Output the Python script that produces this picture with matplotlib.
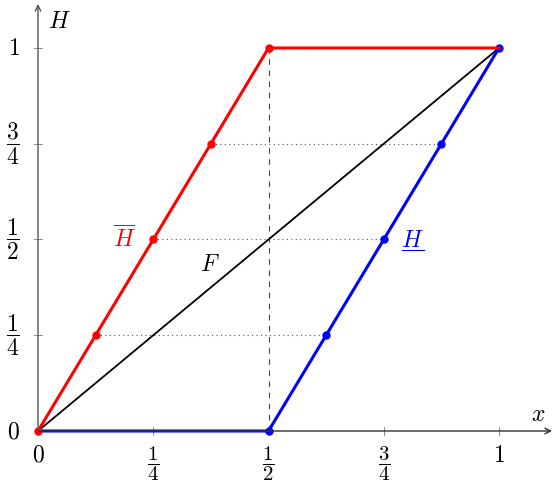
import numpy as np
import matplotlib.pyplot as plt

plt.rcParams['mathtext.fontset'] = 'cm'

# data
x_ticks = [0, 0.25, 0.5, 0.75, 1]
x_tick_labels = ['$0$', r'$\dfrac{1}{4}$', r'$\dfrac{1}{2}$', r'$\dfrac{3}{4}$', '$1$']
y_ticks = [0, 0.25, 0.5, 0.75, 1]
y_tick_labels = ['$0$', r'$\dfrac{1}{4}$', r'$\dfrac{1}{2}$', r'$\dfrac{3}{4}$', '$1$']

h_upper_x = [0, 0.5, 1]
h_upper_y = [0, 1, 1]
h_upper_pts_x = [0, 0.125, 0.25, 0.375, 0.5]
h_upper_pts_y = [0, 0.25, 0.5, 0.75, 1]

h_lower_x = [0, 0.5, 1]
h_lower_y = [0, 0, 1]
h_lower_pts_x = [0.5, 0.625, 0.75, 0.875, 1]
h_lower_pts_y = [0, 0.25, 0.5, 0.75, 1]

f_x = [0, 1]
f_y = [0, 1]

levels = [0.25, 0.5, 0.75]

fs = 17

fig = plt.figure(figsize=(5.53, 4.86), dpi=100)
ax = fig.add_axes([0, 0, 1, 1])
ax.set_xlim(-38 / 461, 515 / 461)
ax.set_ylim(-55 / 383, 431 / 383)
ax.axis('off')

# axes with arrows
ax.annotate('', xy=(1.115, 0), xytext=(0, 0),
            arrowprops=dict(arrowstyle='->', color='#333333', lw=1.0, shrinkA=0, shrinkB=0))
ax.annotate('', xy=(0, 1.115), xytext=(0, 0),
            arrowprops=dict(arrowstyle='->', color='#555555', lw=1.0, shrinkA=0, shrinkB=0))

tx = 4 / 461
ty = 4 / 383
for t, lab in zip(x_ticks, x_tick_labels):
    ax.plot([t, t], [-ty, ty], color='#777777', lw=0.6)
    if 'frac' in lab:
        ax.text(t, -0.086, lab, ha='center', va='center', fontsize=15)
    else:
        ax.text(t, -0.062, lab, ha='center', va='center', fontsize=fs)
for t, lab in zip(y_ticks, y_tick_labels):
    ax.plot([-tx, tx], [t, t], color='#777777', lw=0.6)
    ax.text(-0.04, t, lab, ha='right', va='center', fontsize=fs)

ax.text(1.085, 0.045, '$x$', ha='center', va='center', fontsize=fs)
ax.text(0.022, 1.07, '$H$', ha='left', va='center', fontsize=fs)

# guide lines
for lv, x0 in zip(levels, h_upper_pts_x[1:4]):
    ax.plot([x0, x0 + 0.5], [lv, lv], color='#555555', lw=0.8, ls=(0, (1, 3)))
ax.plot([0.5, 0.5], [0, 1], color='#444444', lw=0.8, ls=(0, (5, 5)))

# F
ax.plot(f_x, f_y, color='black', lw=1.3)
ax.text(0.373, 0.436, '$F$', ha='center', va='center', fontsize=fs)

# lower H (blue)
ax.plot(h_lower_x, h_lower_y, color='blue', lw=2.2, solid_capstyle='round')
ax.plot(h_lower_pts_x, h_lower_pts_y, 'o', color='blue', ms=5)

# upper H (red)
ax.plot(h_upper_x, h_upper_y, color='red', lw=2.2, solid_capstyle='round')
ax.plot(h_upper_pts_x, h_upper_pts_y, 'o', color='red', ms=5)

ax.text(0.187, 0.5, r'$\overline{H}$', ha='center', va='center', fontsize=fs, color='red')
ax.text(0.813, 0.5, '$H$', ha='center', va='center', fontsize=fs, color='blue')
ax.plot([0.789, 0.838], [0.473, 0.473], color='blue', lw=0.8)

fig.savefig('out.png', dpi=100)
